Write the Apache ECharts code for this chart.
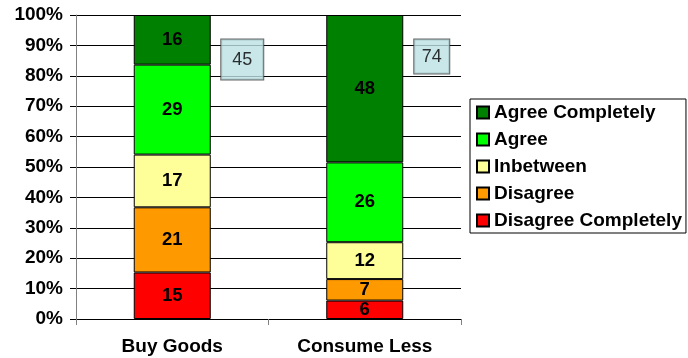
<!DOCTYPE html>
<html>
<head>
<meta charset="utf-8">
<script src="https://cdn.jsdelivr.net/npm/echarts@6/dist/echarts.min.js"></script>
<style>
html,body{margin:0;padding:0;background:#fff;}
#chart{width:688px;height:358px;}
</style>
</head>
<body>
<div id="chart"></div>
<script>
const categories = ['Buy Goods', 'Consume Less'];
const disagreeCompletely = [15, 6];
const disagree = [21, 7];
const inbetween = [17, 12];
const agree = [29, 26];
const agreeCompletely = [16, 48];
const agreeTotals = [45, 74];
const seriesNames = ['Disagree Completely', 'Disagree', 'Inbetween', 'Agree', 'Agree Completely'];
const yTicks = [0, 10, 20, 30, 40, 50, 60, 70, 80, 90, 100];

const raw = [disagreeCompletely, disagree, inbetween, agree, agreeCompletely];
const colors = ['#FF0000', '#FF9900', '#FFFF99', '#00FF00', '#008000'];
const totals = categories.map((c, i) => raw.reduce((s, a) => s + a[i], 0));
const FONT = 'Liberation Sans, Arial, sans-serif';

const barSeries = raw.map((arr, si) => ({
  name: seriesNames[si],
  type: 'bar',
  stack: 'total',
  barWidth: '40%',
  data: arr.map((v, i) => v / totals[i] * 100),
  itemStyle: { color: colors[si], borderColor: '#000', borderWidth: 1 },
  label: {
    show: true,
    position: 'inside',
    color: '#000',
    fontFamily: FONT,
    fontWeight: 'bold',
    fontSize: 18.5,
    formatter: p => String(arr[p.dataIndex])
  },
  emphasis: { disabled: true }
}));

const boxSizes = [[42, 40], [35, 34]];
const boxOffsets = [[70, 2], [67, -1]];
const annotation = {
  type: 'scatter',
  symbolSize: 0,
  silent: true,
  z: 10,
  data: agreeTotals.map((v, i) => ({
    value: [i, 86],
    label: {
      show: true,
      position: 'inside',
      formatter: String(v),
      width: boxSizes[i][0],
      height: boxSizes[i][1],
      lineHeight: boxSizes[i][1],
      align: 'center',
      verticalAlign: 'middle',
      offset: boxOffsets[i],
      backgroundColor: '#BBE0E3',
      borderColor: '#404040',
      borderWidth: 1,
      color: '#000',
      fontFamily: FONT,
      fontSize: 18,
      padding: 0
    }
  }))
};

const chart = echarts.init(document.getElementById('chart'), null, { renderer: 'canvas' });
chart.setOption({
  animation: false,
  backgroundColor: '#fff',
  grid: { left: 76, right: 227, top: 15, bottom: 39, containLabel: false },
  legend: {
    orient: 'vertical',
    left: 470,
    top: 99,
    data: seriesNames.slice().reverse(),
    itemWidth: 12,
    itemHeight: 12,
    itemGap: 8,
    itemTextGap: 6,
    padding: [4, 4, 3, 6],
    borderColor: '#000',
    borderWidth: 1,
    icon: 'rect',
    selectedMode: false,
    textStyle: { color: '#000', fontFamily: FONT, fontWeight: 'bold', fontSize: 19, lineHeight: 19 }
  },
  xAxis: {
    type: 'category',
    data: categories,
    axisLine: { lineStyle: { color: '#000', width: 1 } },
    axisTick: { show: true, length: 6, lineStyle: { color: '#808080' } },
    axisLabel: { color: '#000', fontFamily: FONT, fontWeight: 'bold', fontSize: 19, margin: 18 }
  },
  yAxis: {
    type: 'value',
    min: yTicks[0],
    max: yTicks[yTicks.length - 1],
    interval: yTicks[1] - yTicks[0],
    axisLine: { show: true, lineStyle: { color: '#808080', width: 1 } },
    axisTick: { show: true, length: 6, lineStyle: { color: '#000' } },
    splitLine: { show: true, lineStyle: { color: '#000', width: 1 } },
    axisLabel: { color: '#000', fontFamily: FONT, fontWeight: 'bold', fontSize: 19, margin: 13, formatter: '{value}%' }
  },
  series: barSeries.concat([annotation])
});
</script>
</body>
</html>
